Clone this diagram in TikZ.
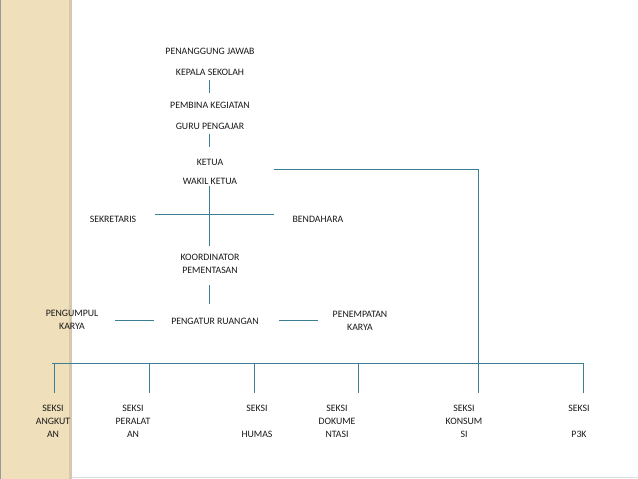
\documentclass[tikz,border=0pt]{standalone}
\usepackage{fontspec}
\setmainfont{Carlito}
\definecolor{band}{RGB}{239,223,186}
\definecolor{bandshadow}{RGB}{214,200,170}
\definecolor{ln}{RGB}{60,126,148}
\begin{document}
\begin{tikzpicture}[x=1pt,y=-1pt,
  lbl/.style={font=\fontsize{9.8}{13}\selectfont, align=center, inner sep=0pt, text=black!90},
  conn/.style={draw=ln, line width=0.9pt}]
\useasboundingbox (0,0) rectangle (638,479);
\fill[white] (0,0) rectangle (638,479);
\fill[band] (0,0) rectangle (69,479);
\fill[bandshadow] (69,0) rectangle (72,479);
\draw[gray!80, line width=1pt] (0.5,0) -- (0.5,479);
\draw[gray!25, line width=1pt] (72,477.5) -- (638,477.5);

% top chain
\node[lbl] (pj) at (210,51) {PENANGGUNG JAWAB};
\node[lbl] (ks) at (210,72) {KEPALA SEKOLAH};
\node[lbl] (pk) at (210,105) {PEMBINA KEGIATAN};
\node[lbl] (gp) at (210,126) {GURU PENGAJAR};
\node[lbl] (ke) at (210,162) {KETUA};
\node[lbl] (wk) at (210,181) {WAKIL KETUA};
\node[lbl] (sk) at (113,219) {SEKRETARIS};
\node[lbl] (bd) at (318,219) {BENDAHARA};
\node[lbl] (ko) at (210,264) {KOORDINATOR\\PEMENTASAN};
\node[lbl] (pr) at (215,321) {PENGATUR RUANGAN};
\node[lbl] (pu) at (72,320) {PENGUMPUL\\KARYA};
\node[lbl] (pe) at (360,321) {PENEMPATAN\\KARYA};

% bottom row
\node[lbl] (s1) at (53,421) {SEKSI\\ANGKUT\\AN};
\node[lbl] (s2) at (133,421) {SEKSI\\PERALAT\\AN};
\node[lbl] (s3) at (257,421) {SEKSI\\~\\HUMAS};
\node[lbl] (s4) at (337,421) {SEKSI\\DOKUME\\NTASI};
\node[lbl] (s5) at (464,421) {SEKSI\\KONSUM\\SI};
\node[lbl] (s6) at (579,421) {SEKSI\\~\\P3K};

% coordinates
\coordinate (a1) at (209,80);  \coordinate (a2) at (209,93);
\coordinate (b1) at (209,134); \coordinate (b2) at (209,147);
\coordinate (c1) at (209,186); \coordinate (c2) at (209,246);
\coordinate (h1) at (155,214); \coordinate (h2) at (274,214);
\coordinate (r1) at (274,169); \coordinate (r2) at (478,169);
\coordinate (d1) at (209,285); \coordinate (d2) at (209,304);
\coordinate (l1) at (115,320); \coordinate (l2) at (154,320);
\coordinate (m1) at (279,320); \coordinate (m2) at (318,320);
\coordinate (bl) at (52,363);  \coordinate (br) at (583,363);

\draw[conn] (a1) -- (a2);
\draw[conn] (b1) -- (b2);
\draw[conn] (c1) -- (c2);
\draw[conn] (h1) -- (h2);
\draw[conn] (r1) -- (r2) -- (478,363);
\draw[conn] (d1) -- (d2);
\draw[conn] (l1) -- (l2);
\draw[conn] (m1) -- (m2);
\draw[conn] (bl) -- (br);
\foreach \x in {54,149,254,358,478,583}
  \draw[conn] (\x,363) -- (\x,393);
\end{tikzpicture}
\end{document}
